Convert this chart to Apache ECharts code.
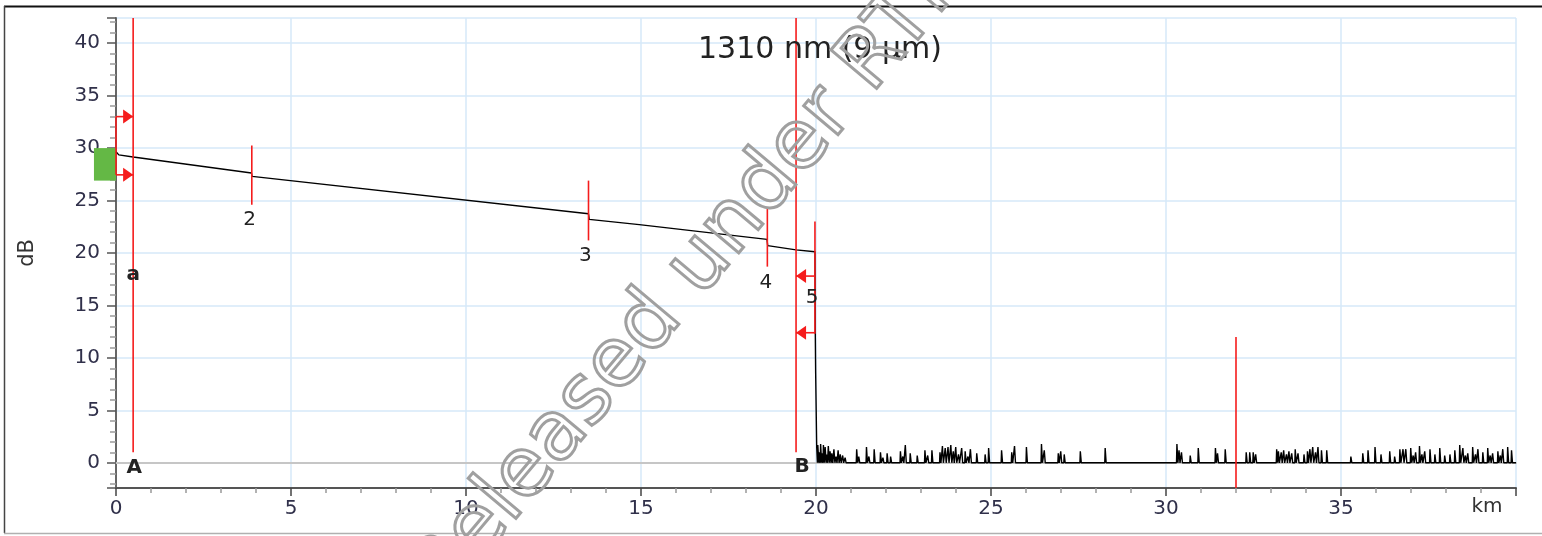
<!DOCTYPE html>
<html><head><meta charset="utf-8">
<script src="https://cdn.jsdelivr.net/npm/echarts@6/dist/echarts.min.js"></script>
<style>html,body{margin:0;padding:0;background:#fff}#c{width:1542px;height:536px}</style>
</head><body><div id="c"></div>
<script>
// ---------- data ----------
const chartTitle = '1310 nm (9 µm)';
const xName = 'km';
const yName = 'dB';
const watermarkText = 'Released under RTI Act';

// fibre backscatter trace [km, dB]
const fiberTrace = [[0,29.65],[0.08,29.35],[0.49,29.15],[3.87,27.62],[3.89,27.3],[13.5,23.74],[13.52,23.2],[14.95,22.7],[18.6,21.3],[18.62,20.7],[19.43,20.3],[19.97,20.12],[19.98,12.3],[19.99,8.6],[20.02,1.5]];

// noise spikes after fibre end [km, dB peak]
const noiseA = [[20.06,1.7],[20.1,1.0],[20.14,1.8],[20.18,0.9],[20.22,1.7],[20.27,1.5],[20.31,0.8],[20.36,1.6],[20.41,1.1],[20.46,0.9],[20.52,1.3],[20.58,0.6],[20.64,1.2],[20.7,0.8],[20.77,0.7],[20.84,0.5]];
const noiseB = [[21.17,1.3],[21.23,0.6],[21.45,1.5],[21.52,0.6],[21.67,1.3],[21.85,1.0],[21.92,0.5],[22.04,0.9],[22.14,0.6],[22.42,1.1],[22.49,0.6],[22.56,1.7],[22.7,0.9],[22.9,0.7],[23.12,1.2],[23.2,0.7],[23.32,1.2],[23.55,1.0],[23.62,1.6],[23.7,1.4],[23.78,1.5],[23.86,1.7],[23.93,1.1],[24.0,1.5],[24.08,0.8],[24.17,1.4],[24.27,1.1],[24.35,0.6],[24.42,1.3],[24.6,0.9],[24.84,0.8]];
const noiseC = [[24.94,1.4],[25.31,1.2],[25.6,1.0],[25.68,1.6],[26.02,1.5],[26.45,1.8],[26.53,1.2],[26.93,0.9],[27.0,1.1],[27.1,0.8],[27.56,1.1],[28.27,1.4]];
const noiseD = [[30.32,1.8],[30.38,1.2],[30.45,1.0],[30.7,0.7],[30.93,1.4],[31.42,1.4],[31.48,0.9],[31.7,1.3],[32.3,1.0],[32.4,1.0],[32.5,1.0],[32.57,0.8]];
const noiseE = [[33.17,1.3],[33.22,1.1],[33.3,1.0],[33.37,1.2],[33.45,0.8],[33.52,1.1],[33.6,0.9],[33.7,1.3],[33.78,0.9],[33.95,0.8],[34.05,1.1],[34.12,1.3],[34.2,1.5],[34.28,1.0],[34.35,1.5],[34.45,1.2],[34.6,1.2]];
const noiseF = [[35.29,0.6],[35.63,0.9],[35.78,1.2],[35.98,1.5],[36.15,0.8],[36.4,1.1],[36.54,0.6],[36.69,1.3],[36.78,1.3],[36.86,1.3],[37.0,1.4],[37.07,0.7],[37.14,1.0],[37.25,1.6],[37.32,0.8],[37.4,1.1],[37.55,1.3],[37.69,0.8],[37.83,1.4],[37.97,0.7],[38.12,0.8],[38.26,1.2],[38.4,1.7],[38.49,1.4],[38.56,0.7],[38.63,0.9],[38.77,1.5],[38.85,0.8],[38.92,1.3],[39.06,1.0],[39.2,1.4],[39.27,0.7],[39.34,0.9],[39.49,1.1],[39.56,0.7],[39.63,1.3],[39.77,1.5],[39.88,1.2]];

// event markers
const eventKm = [3.88, 13.5, 18.61, 19.97];
const eventTop = [30.25, 26.9, 24.2, 23.0];
const eventBottom = [24.6, 21.2, 18.7, 12.3];
const eventLabels = ['2', '3', '4', '5'];
const eventLabelPos = [[3.82,23.2],[13.41,19.7],[18.57,17.2],[19.89,15.7]];

// cursors
const cursorKm = [0.49, 19.43];
const cursorTop = 42.4, cursorBottom = 1.0;
const cursorLabels = ['A', 'B', 'a'];
const cursorLabelPos = [[0.52,-0.5],[19.6,-0.4],[0.49,17.9]];
const endMarker = [32.0, 12.0, -2.4];

// brackets [fromKm, toKm, dB]
const arrows = [[0,0.49,33.0],[0,0.49,27.45],[19.97,19.43,17.8],[19.97,19.43,12.4]];
const bracketLine = [0, 33.0, 27.45];

// launch region box [x0, y0, x1, y1]
const launchBox = [-0.63, 30.0, 0, 26.9];

// ---------- build ----------
const FONT = '"DejaVu Sans", Verdana, sans-serif';
const RED = '#f51c1c';
const lineData = fiberTrace.slice();
[].concat(noiseA, noiseB, noiseC, noiseD, noiseE, noiseF).forEach(([x, h]) => {
  lineData.push([x - 0.02, 0], [x - 0.008, h], [x + 0.008, h], [x + 0.02, 0]);
});
lineData.push([40, 0]);

const segData = eventKm.map((k, i) => [k, eventTop[i], eventBottom[i]])
  .concat(cursorKm.map(k => [k, cursorTop, cursorBottom]))
  .concat([endMarker, bracketLine]);

const textData = eventLabelPos.map((p, i) => ({ value: p, t: eventLabels[i], bold: false }))
  .concat(cursorLabelPos.map((p, i) => ({ value: p, t: cursorLabels[i], bold: true })));

const chart = echarts.init(document.getElementById('c'), null, { renderer: 'canvas' });
chart.setOption({
  animation: false,
  backgroundColor: '#fff',
  title: {
    text: chartTitle, left: 815, top: 30, textAlign: 'center',
    textStyle: { fontFamily: FONT, fontSize: 30, fontWeight: 'normal', color: '#222' }
  },
  grid: { left: 116, right: 26, top: 18, bottom: 48, containLabel: false, outerBoundsMode: 'none' },
  xAxis: [{
    type: 'value', min: 0, max: 40, interval: 5,
    name: xName, nameLocation: 'end', nameGap: -29,
    nameTextStyle: { fontFamily: FONT, fontSize: 20, color: '#333', align: 'center', verticalAlign: 'top', padding: [9, 0, 0, 0] },
    axisLine: { show: true, onZero: false, lineStyle: { color: '#555', width: 2 } },
    axisTick: { show: true, length: 8, lineStyle: { color: '#444', width: 1.5 } },
    minorTick: { show: true, splitNumber: 5, length: 5, lineStyle: { color: '#999', width: 1.5 } },
    splitLine: { show: true, lineStyle: { color: '#d6e8f8', width: 1.5 } },
    axisLabel: { margin: 11, fontFamily: FONT, fontSize: 20, color: '#30304a', showMaxLabel: false }
  }, {
    type: 'value', min: 0, max: 40, position: 'top',
    axisLine: { show: true, lineStyle: { color: '#c6c6c6', width: 2 } },
    axisTick: { show: false }, axisLabel: { show: false }, splitLine: { show: false }
  }],
  yAxis: {
    type: 'value', min: -2.4, max: 42.4, splitNumber: 9,
    name: yName, nameLocation: 'middle', nameGap: 78, nameRotate: 90,
    nameTextStyle: { fontFamily: FONT, fontSize: 21, color: '#333' },
    axisLine: { show: true, onZero: false, lineStyle: { color: '#666', width: 2 } },
    axisTick: { show: true, length: 9, lineStyle: { color: '#555', width: 1.5 } },
    minorTick: { show: true, splitNumber: 5, length: 6, lineStyle: { color: '#9a9a9a', width: 1.5 } },
    splitLine: { show: true, lineStyle: { color: '#d6e8f8', width: 1.5 } },
    axisLabel: {
      margin: 16, fontFamily: FONT, fontSize: 20, color: '#30304a',
      formatter: v => (Math.abs(Math.round(v / 5) * 5 - v) < 1e-6 ? String(Math.round(v)) : '')
    }
  },
  series: [{
    type: 'line', name: 'trace', data: lineData, showSymbol: false, symbol: 'none',
    lineStyle: { color: '#000', width: 1.4 }, z: 3
  }, {
    type: 'custom', name: 'launch', clip: false, z: 2,
    data: [launchBox],
    renderItem: (params, api) => {
      const p0 = api.coord([api.value(0), api.value(1)]);
      const p1 = api.coord([api.value(2), api.value(3)]);
      return { type: 'rect', shape: { x: p0[0], y: p0[1], width: p1[0] - p0[0], height: p1[1] - p0[1] }, style: { fill: '#64b845' } };
    }
  }, {
    type: 'custom', name: 'markers', clip: false, z: 4,
    data: segData,
    renderItem: (params, api) => {
      const p1 = api.coord([api.value(0), api.value(1)]);
      const p2 = api.coord([api.value(0), api.value(2)]);
      return { type: 'line', shape: { x1: p1[0], y1: p1[1], x2: p2[0], y2: p2[1] }, style: { stroke: RED, lineWidth: 1.6 } };
    }
  }, {
    type: 'custom', name: 'arrows', clip: false, z: 4,
    data: arrows,
    renderItem: (params, api) => {
      const a = api.coord([api.value(0), api.value(2)]);
      const b = api.coord([api.value(1), api.value(2)]);
      const d = b[0] > a[0] ? 1 : -1;
      return { type: 'group', children: [
        { type: 'line', shape: { x1: a[0], y1: a[1], x2: b[0], y2: b[1] }, style: { stroke: RED, lineWidth: 1.6 } },
        { type: 'polygon', shape: { points: [[b[0], b[1]], [b[0] - d * 10, b[1] - 7], [b[0] - d * 10, b[1] + 7]] }, style: { fill: RED } }
      ] };
    }
  }, {
    type: 'custom', name: 'labels', clip: false, z: 5,
    data: textData,
    renderItem: (params, api) => {
      const p = api.coord([api.value(0), api.value(1)]);
      const item = textData[params.dataIndex];
      return { type: 'text', x: p[0], y: p[1], style: {
        text: item.t, font: (item.bold ? 'bold ' : '') + '20px ' + FONT,
        fill: '#222', align: 'center', verticalAlign: 'middle', textAlign: 'center', textVerticalAlign: 'middle' } };
    }
  }],
  graphic: [
    { type: 'line', shape: { x1: 4, y1: 6.5, x2: 1542, y2: 6.5 }, style: { stroke: '#111', lineWidth: 2 }, silent: true },
    { type: 'line', shape: { x1: 4.5, y1: 6, x2: 4.5, y2: 533 }, style: { stroke: '#444', lineWidth: 1.5 }, silent: true },
    { type: 'line', shape: { x1: 4, y1: 533.5, x2: 1542, y2: 533.5 }, style: { stroke: '#b0b0b0', lineWidth: 1.5 }, silent: true },
    { type: 'text', x: 428, y: 590, rotation: 50 * Math.PI / 180, z: 100, silent: true,
      style: { text: watermarkText, font: '82px ' + FONT, fill: 'rgba(0,0,0,0)', stroke: '#a0a0a0', lineWidth: 3,
        align: 'left', verticalAlign: 'middle', textAlign: 'left', textVerticalAlign: 'middle' } }
  ]
});
</script>
</body></html>
